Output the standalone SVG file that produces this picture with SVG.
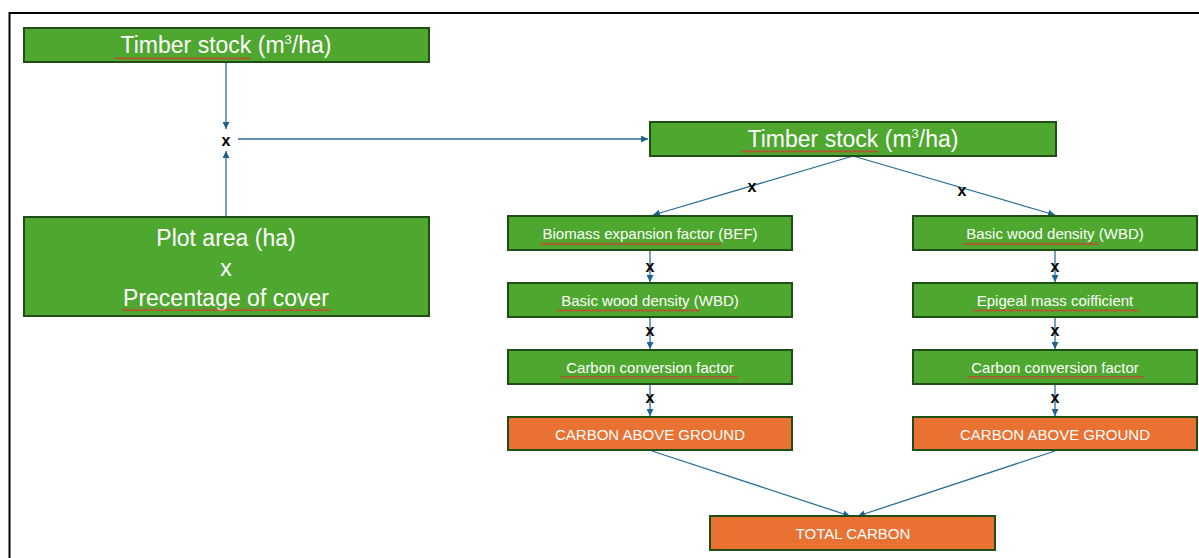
<svg xmlns="http://www.w3.org/2000/svg" width="1199" height="558" viewBox="0 0 1199 558">
<style>
.g{fill:#4EA72E;stroke:#1F4E17;stroke-width:2}
.o{fill:#E97132;stroke:#1F4E17;stroke-width:2}
.t{font-family:"Liberation Sans",Arial,sans-serif;fill:#fff;text-anchor:middle;dominant-baseline:central}
.big{font-size:23px}
.sm{font-size:15px}
.c{stroke:#2A6F97;stroke-width:1.3;fill:none;marker-end:url(#ah)}
.x{font-family:"Liberation Sans",Arial,sans-serif;font-weight:bold;font-size:16px;fill:#000;text-anchor:middle;dominant-baseline:central}
.sq{fill:url(#sq)}
</style>
<defs>
<marker id="ah" viewBox="0 0 10 10" refX="10" refY="5" markerWidth="7" markerHeight="7" orient="auto" markerUnits="userSpaceOnUse"><path d="M0 0 L10 5 L0 10 z" fill="#1F6391"/></marker>
<pattern id="sq" width="4" height="3" patternUnits="userSpaceOnUse"><path d="M0 2.5 L1 0.5 L2 2.5 L3 0.5 L4 2.5" stroke="#E03030" stroke-width="0.7" fill="none"/></pattern>
</defs>
<rect width="1199" height="558" fill="#fff"/>
<path d="M9.5 558 V13 H1199" fill="none" stroke="#000" stroke-width="2"/>

<g id="connectors">
<line class="c" x1="226" y1="62" x2="226" y2="129"/>
<line class="c" x1="226" y1="216" x2="226" y2="151"/>
<line class="c" x1="238" y1="139" x2="648" y2="139"/>
<line class="c" x1="853" y1="156" x2="653" y2="215"/>
<line class="c" x1="853" y1="156" x2="1055" y2="215"/>
<line class="c" x1="650" y1="251" x2="650" y2="282"/>
<line class="c" x1="650" y1="317" x2="650" y2="349"/>
<line class="c" x1="650" y1="384" x2="650" y2="416"/>
<line class="c" x1="1055" y1="251" x2="1055" y2="282"/>
<line class="c" x1="1055" y1="317" x2="1055" y2="349"/>
<line class="c" x1="1055" y1="384" x2="1055" y2="416"/>
<line class="c" x1="652" y1="451" x2="850" y2="516"/>
<line class="c" x1="1055" y1="451" x2="858" y2="516"/>
<text class="x" x="226" y="140">x</text>
<text class="x" x="752" y="186">x</text>
<text class="x" x="962" y="190">x</text>
<text class="x" x="650" y="266">x</text>
<text class="x" x="650" y="330">x</text>
<text class="x" x="650" y="397">x</text>
<text class="x" x="1055" y="266">x</text>
<text class="x" x="1055" y="330">x</text>
<text class="x" x="1055" y="397">x</text>
</g>

<g id="timber1">
<rect class="g" x="24" y="28" width="405" height="34"/>
<text class="t big" x="226" y="45">Timber stock (m<tspan font-size="13" dy="-6">3</tspan><tspan dy="6">/ha)</tspan></text>
<rect class="sq" x="115" y="57" width="135" height="3"/>
</g>

<g id="plotarea">
<rect class="g" x="24" y="217" width="405" height="99"/>
<text class="t big" x="226" y="238">Plot area (ha)</text>
<text class="t big" x="226" y="268">x</text>
<text class="t big" x="226" y="298">Precentage of cover</text>
<rect class="sq" x="122" y="308" width="209" height="3"/>
</g>

<g id="timber2">
<rect class="g" x="650" y="122" width="406" height="34"/>
<text class="t big" x="853" y="139">Timber stock (m<tspan font-size="13" dy="-6">3</tspan><tspan dy="6">/ha)</tspan></text>
<rect class="sq" x="741" y="150" width="137" height="3"/>
</g>

<g id="bef">
<rect class="g" x="508" y="216" width="284" height="34"/>
<text class="t sm" x="650" y="233">Biomass expansion factor (BEF)</text>
<rect class="sq" x="540" y="242" width="181" height="3"/>
</g>
<g id="wbd-left">
<rect class="g" x="508" y="283" width="284" height="34"/>
<text class="t sm" x="650" y="300">Basic wood density (WBD)</text>
<rect class="sq" x="557" y="309" width="143" height="3"/>
</g>
<g id="ccf-left">
<rect class="g" x="508" y="350" width="284" height="34"/>
<text class="t sm" x="650" y="367">Carbon conversion factor</text>
<rect class="sq" x="561" y="376" width="177" height="3"/>
</g>
<g id="cag-left">
<rect class="o" x="508" y="417" width="284" height="33"/>
<text class="t sm" x="650" y="434">CARBON ABOVE GROUND</text>
</g>

<g id="wbd-right">
<rect class="g" x="913" y="216" width="284" height="34"/>
<text class="t sm" x="1055" y="233">Basic wood density (WBD)</text>
<rect class="sq" x="963" y="242" width="136" height="3"/>
</g>
<g id="epigeal">
<rect class="g" x="913" y="283" width="284" height="34"/>
<text class="t sm" x="1055" y="300">Epigeal mass coifficient</text>
<rect class="sq" x="973" y="309" width="166" height="3"/>
</g>
<g id="ccf-right">
<rect class="g" x="913" y="350" width="284" height="34"/>
<text class="t sm" x="1055" y="367">Carbon conversion factor</text>
<rect class="sq" x="967" y="376" width="176" height="3"/>
</g>
<g id="cag-right">
<rect class="o" x="913" y="417" width="284" height="33"/>
<text class="t sm" x="1055" y="434">CARBON ABOVE GROUND</text>
</g>

<g id="total">
<rect class="o" x="710" y="516" width="285" height="34"/>
<text class="t sm" x="853" y="533">TOTAL CARBON</text>
</g>
</svg>
